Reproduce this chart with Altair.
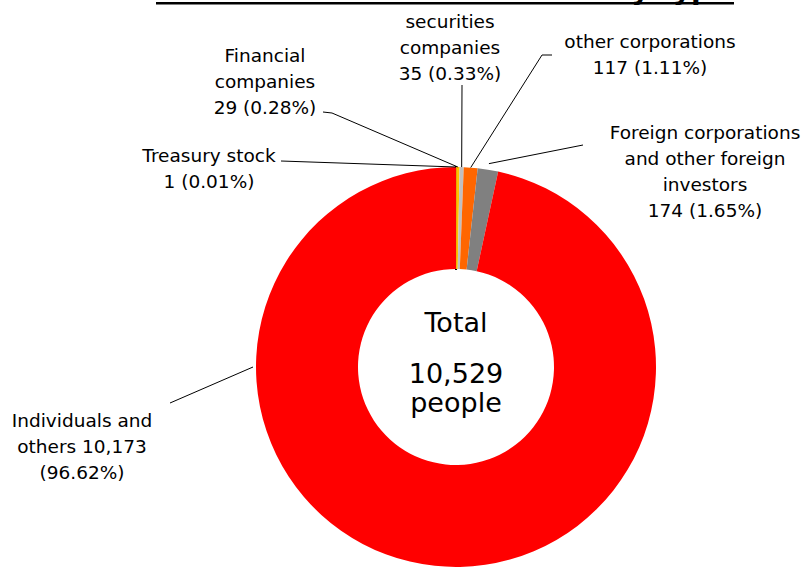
import math
import altair as alt
import pandas as pd

# Shareholders by type
categories = [
    "Treasury stock",
    "Financial companies",
    "securities companies",
    "other corporations",
    "Foreign corporations and other foreign investors",
    "Individuals and others",
]
holders = [1, 29, 35, 117, 174, 10173]
slice_colors = ["#000000", "#FFC000", "#C0C0C0", "#FF6600", "#808080", "#FF0000"]

# Label lines; {n} and {p} are filled from the holder counts
label_templates = [
    ["Treasury stock", "{n} ({p})"],
    ["Financial", "companies", "{n} ({p})"],
    ["securities", "companies", "{n} ({p})"],
    ["other corporations", "{n} ({p})"],
    ["Foreign corporations", "and other foreign", "investors", "{n} ({p})"],
    ["Individuals  and", "others {n}", "({p})"],
]

# Layout (pixels)
CX, CY = 456, 367
R_OUT, R_IN = 200, 98
FONT = "DejaVu Sans"
LABEL_SIZE = 18.5
LINE_H = 26
label_x = [209, 265, 450, 650, 705, 82]
label_y0 = [162, 62, 28, 48, 139, 427]
leader_start = [
    [(281, 161)],
    [(323, 112), (332, 113)],
    [(462, 85)],
    [(552, 55), (542, 55)],
    [(583, 145)],
    [(170, 403)],
]
anchor_r = [200, 200, 200, 200, 206, 203]
anchor_angle_override = [None, None, None, None, None, 270]

total = sum(holders)

# Slices
slices = pd.DataFrame({
    "idx": list(range(len(categories))),
    "category": categories,
    "holders": holders,
})

# Label rows, one per text line
label_rows = []
for i, (tmpl, v) in enumerate(zip(label_templates, holders)):
    n = f"{v:,}"
    p = f"{v / total * 100:.2f}%"
    for j, line in enumerate(tmpl):
        label_rows.append({
            "x": label_x[i],
            "y": label_y0[i] + j * LINE_H,
            "text": line.format(n=n, p=p),
        })
labels = pd.DataFrame(label_rows)

# Leader lines ending at each slice's middle angle on the outer rim
leader_rows = []
cum = 0
for i, v in enumerate(holders):
    mid = (cum + v / 2) / total * 360
    cum += v
    ang = anchor_angle_override[i] if anchor_angle_override[i] is not None else mid
    rad = math.radians(ang)
    ax = CX + anchor_r[i] * math.sin(rad)
    ay = CY - anchor_r[i] * math.cos(rad)
    pts = leader_start[i] + [(ax, ay)]
    for k, (px, py) in enumerate(pts):
        leader_rows.append({"leader": i, "step": k, "x": px, "y": py})
leaders = pd.DataFrame(leader_rows)

center_text = pd.DataFrame({
    "text": ["Total", f"{total:,}", "people"],
    "y": [332, 383, 412],
})

donut = alt.Chart(slices).mark_arc(
    outerRadius=R_OUT, innerRadius=R_IN, stroke="black"
).encode(
    theta=alt.Theta("holders:Q", stack=True),
    order=alt.Order("idx:Q"),
    color=alt.Color(
        "category:N",
        scale=alt.Scale(domain=categories, range=slice_colors),
        legend=None,
    ),
    strokeWidth=alt.condition("datum.idx == 0", alt.value(2), alt.value(0)),
    x=alt.value(CX),
    y=alt.value(CY),
)

leader_lines = alt.Chart(leaders).mark_line(color="black", strokeWidth=1).encode(
    x=alt.X("x:Q", scale=None),
    y=alt.Y("y:Q", scale=None),
    detail="leader:N",
    order="step:Q",
)

label_text = alt.Chart(labels).mark_text(
    font=FONT, fontSize=LABEL_SIZE, color="black", align="center", baseline="alphabetic"
).encode(
    x=alt.X("x:Q", scale=None),
    y=alt.Y("y:Q", scale=None),
    text="text:N",
)

center = alt.Chart(center_text).mark_text(
    font=FONT, fontSize=27, color="black", align="center", baseline="alphabetic"
).encode(
    x=alt.value(CX),
    y=alt.Y("y:Q", scale=None),
    text="text:N",
)

# Underlined heading at the top edge
heading = alt.Chart(alt.Data(values=[{}])).mark_text(
    font=FONT, fontSize=28, fontWeight="bold", color="black",
    align="right", baseline="alphabetic",
).encode(
    x=alt.value(730),
    y=alt.value(-1),
    text=alt.value("Distribution of shareholders by type"),
)
underline = alt.Chart(alt.Data(values=[{}])).mark_rule(
    color="black", strokeWidth=2.5
).encode(
    x=alt.value(156), x2=alt.value(734), y=alt.value(3.3),
)

chart = alt.layer(
    donut, leader_lines, label_text, center, heading, underline
).properties(
    width=805,
    height=568,
    autosize=alt.AutoSizeParams(type="none"),
    padding=0,
    background="white",
).configure_view(stroke=None)

chart.save("out.html", embed_options={"renderer": "svg", "actions": False})
